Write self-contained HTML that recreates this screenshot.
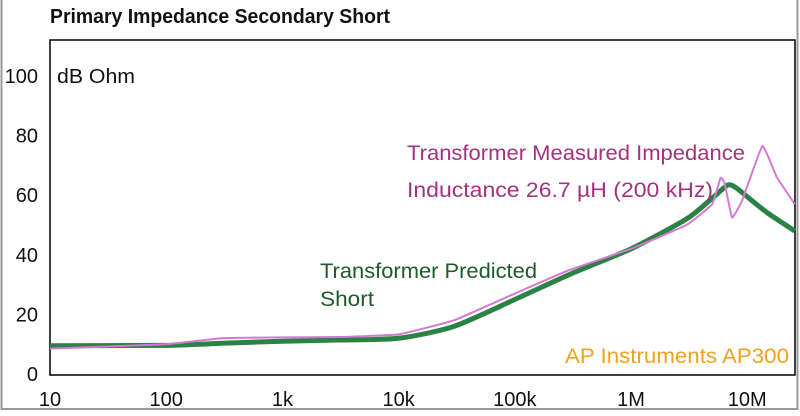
<!DOCTYPE html>
<html><head><meta charset="utf-8"><style>
html,body{margin:0;padding:0;background:#fff;}
body{width:800px;height:411px;overflow:hidden;font-family:"Liberation Sans",sans-serif;}
</style></head><body>
<svg id="chart" width="800" height="411" viewBox="0 0 800 411" xmlns="http://www.w3.org/2000/svg" font-family="Liberation Sans, sans-serif">
<rect x="1.5" y="-2" width="796" height="411" fill="#fff" stroke="#999" stroke-width="2"/>
<text x="50" y="23" font-size="20" font-weight="bold" fill="#111" textLength="340" lengthAdjust="spacingAndGlyphs">Primary Impedance Secondary Short</text>
<rect x="50" y="40" width="745" height="335" fill="none" stroke="#000" stroke-width="1.5"/>
<text x="57" y="83" font-size="20" fill="#111" textLength="78" lengthAdjust="spacingAndGlyphs">dB Ohm</text>
<g id="yticks"></g>
<g id="xticks"></g>
<g id="series"></g>
<text x="407" y="160" font-size="21" fill="#a3327e" textLength="338" lengthAdjust="spacingAndGlyphs">Transformer Measured Impedance</text>
<text x="407" y="197" font-size="21" fill="#a3327e" textLength="306" lengthAdjust="spacingAndGlyphs">Inductance 26.7 µH (200 kHz)</text>
<text x="320" y="278" font-size="21" fill="#1e5a2c" textLength="217" lengthAdjust="spacingAndGlyphs">Transformer Predicted</text>
<text x="320" y="306" font-size="21" fill="#1e5a2c" textLength="54" lengthAdjust="spacingAndGlyphs">Short</text>
<text x="565" y="363" font-size="21" fill="#f0a21e" textLength="224" lengthAdjust="spacingAndGlyphs">AP Instruments AP300</text>
</svg>
<script>
const yTicks=[0,20,40,60,80,100];
const xTickVals=[10,100,1e3,1e4,1e5,1e6,1e7];
const xTickLabels=["10","100","1k","10k","100k","1M","10M"];
const predFreq=[10,100,300,1e3,3e3,1e4,3e4,1e5,3e5,1e6,3e6,5e6,6.8e6,8e6,1e7,1.5e7,2.57e7];
const predVals=[9.5,9.6,10.3,11,11.4,12,16,25,33.5,42,52,59,63.4,62.5,59.5,54,48];
const measFreq=[10,100,300,1e3,3e3,1e4,3e4,1e5,3e5,1e6,3e6,5e6,5.9e6,6.4e6,7.4e6,9e6,1.35e7,1.8e7,2.57e7];
const measVals=[8.5,10,12,12.3,12.4,13.3,18,27,35,42,50,57,65.8,64,52.5,58,76.5,66,57];
const NS="http://www.w3.org/2000/svg";
const xs=f=>50+116.2*Math.log10(f/10);
const ys=v=>374-v*2.98;
const yg=document.getElementById('yticks');
yTicks.forEach(v=>{const t=document.createElementNS(NS,'text');


t.setAttribute('x',38);t.setAttribute('y',ys(v)+7);t.setAttribute('text-anchor','end');
t.setAttribute('font-size','20');t.setAttribute('fill','#111');t.textContent=v;yg.appendChild(t);});
const xg=document.getElementById('xticks');
xTickVals.forEach((f,i)=>{const t=document.createElementNS(NS,'text');


t.setAttribute('x',xs(f));t.setAttribute('y',406);t.setAttribute('text-anchor','middle');
t.setAttribute('font-size','20');t.setAttribute('fill','#111');t.textContent=xTickLabels[i];xg.appendChild(t);});
function path(fr,vals,k){const p=fr.map((f,i)=>[xs(f),ys(vals[i])]);
let d='M'+p[0][0]+','+p[0][1];
for(let i=0;i<p.length-1;i++){const p0=p[Math.max(0,i-1)],p1=p[i],p2=p[i+1],p3=p[Math.min(p.length-1,i+2)];
d+=' C'+(p1[0]+(p2[0]-p0[0])*k)+','+(p1[1]+(p2[1]-p0[1])*k)+' '+(p2[0]-(p3[0]-p1[0])*k)+','+(p2[1]-(p3[1]-p1[1])*k)+' '+p2[0]+','+p2[1];}
return d;}
const sg=document.getElementById('series');
const g=document.createElementNS(NS,'path');


g.setAttribute('d',path(predFreq,predVals,0.12));g.setAttribute('fill','none');g.setAttribute('stroke','#2a8244');g.setAttribute('stroke-width','5');
sg.appendChild(g);
const m=document.createElementNS(NS,'path');


m.setAttribute('d',path(measFreq,measVals,0.05));m.setAttribute('fill','none');m.setAttribute('stroke','#d27ad2');m.setAttribute('stroke-width','2');
sg.appendChild(m);
</script>
</body></html>
